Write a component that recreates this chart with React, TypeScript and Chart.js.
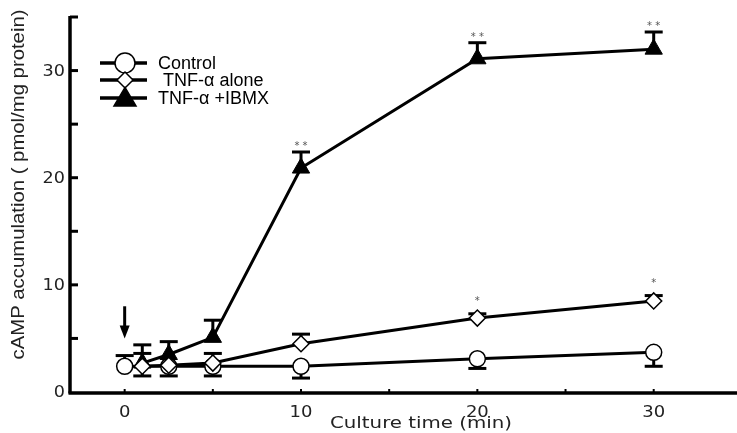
import React, { useEffect, useRef } from "react";
import { Chart, registerables } from "chart.js";

Chart.register(...registerables);

// ---- data ----
const controlTimes = [0, 2.5, 5, 10, 20, 30];
const controlValues = [2.4, 2.4, 2.4, 2.4, 3.1, 3.7];
const controlErrUp: (number | null)[] = [3.4, null, null, null, null, null];
const controlErrDown: (number | null)[] = [null, 1.5, 1.5, 1.3, 2.2, 2.4];
const controlSig = ["", "", "", "", "", ""];

const tnfTimes = [1, 2.5, 5, 10, 20, 30];
const tnfValues = [2.4, 2.5, 2.7, 4.5, 6.9, 8.5];
const tnfErrUp: (number | null)[] = [3.6, null, 3.6, 5.4, 7.3, 9.0];
const tnfErrDown: (number | null)[] = [1.5, null, null, null, null, null];
const tnfSig = ["", "", "", "", "*", "*"];

const ibmxTimes = [1, 2.5, 5, 10, 20, 30];
const ibmxValues = [2.7, 3.5, 5.1, 20.9, 31.1, 32.0];
const ibmxErrUp: (number | null)[] = [4.4, 4.7, 6.7, 22.4, 32.6, 33.6];
const ibmxErrDown: (number | null)[] = [null, null, null, null, null, null];
const ibmxSig = ["", "", "", "**", "**", "**"];

const seriesLabels = ["Control", " TNF-\u03b1 alone", "TNF-\u03b1 +IBMX"];
const xMajorTicks = [0, 10, 20, 30];
const xMinorTicks = [5, 15, 25];
const yMajorTicks = [0, 10, 20, 30];
const yMinorTicks = [5, 15, 25, 35];
const xTitle = "Culture time (min)";
const yTitle = "cAMP accumulation ( pmol/mg protein)";
const arrowTime = 0;
const arrowFrom = 8.0;
const arrowTo = 5.0;

const X_MIN = -3.1;
const X_MAX = 34.1;
const Y_MIN = 0;
const Y_MAX = 35;

const errUpAll = [controlErrUp, tnfErrUp, ibmxErrUp];
const errDownAll = [controlErrDown, tnfErrDown, ibmxErrDown];
const sigAll = [controlSig, tnfSig, ibmxSig];

function scaledText(ctx: CanvasRenderingContext2D, text: string, x: number, y: number, sx: number, align: "left" | "right" | "center") {
  ctx.save();
  ctx.translate(x, y);
  ctx.scale(sx, 1);
  ctx.textAlign = align;
  ctx.fillText(text, 0, 0);
  ctx.restore();
}

function drawMarker(ctx: CanvasRenderingContext2D, kind: string, x: number, y: number, r: number) {
  ctx.save();
  ctx.beginPath();
  if (kind === "circle") {
    ctx.arc(x, y, r, 0, Math.PI * 2);
    ctx.fillStyle = "#fff";
  } else if (kind === "diamond") {
    ctx.moveTo(x, y - r);
    ctx.lineTo(x + r, y);
    ctx.lineTo(x, y + r);
    ctx.lineTo(x - r, y);
    ctx.closePath();
    ctx.fillStyle = "#fff";
  } else {
    const h = r * 1.6;
    ctx.moveTo(x, y - h * 0.6);
    ctx.lineTo(x + r, y + h * 0.45);
    ctx.lineTo(x - r, y + h * 0.45);
    ctx.closePath();
    ctx.fillStyle = "#000";
  }
  ctx.fill();
  ctx.lineWidth = 1.5;
  ctx.strokeStyle = "#000";
  ctx.stroke();
  ctx.restore();
}

const customPlugin = {
  id: "custom",
  beforeDatasetsDraw(chart: any) {
    const ctx: CanvasRenderingContext2D = chart.ctx;
    const xs = chart.scales.x;
    const ys = chart.scales.y;
    const area = chart.chartArea;
    ctx.save();
    ctx.strokeStyle = "#000";
    ctx.fillStyle = "#000";
    // axes
    const y0 = ys.getPixelForValue(0);
    ctx.lineWidth = 3.5;
    ctx.beginPath();
    ctx.moveTo(area.left, ys.getPixelForValue(Y_MAX) - 1);
    ctx.lineTo(area.left, y0 + 1.5);
    ctx.stroke();
    ctx.beginPath();
    ctx.moveTo(area.left - 1.5, y0 + 1);
    ctx.lineTo(chart.width, y0 + 1);
    ctx.stroke();
    // y ticks (all pointing inward)
    ctx.lineWidth = 3;
    [...yMajorTicks, ...yMinorTicks].forEach((v) => {
      if (v === 0) return;
      const py = ys.getPixelForValue(v);
      ctx.beginPath();
      ctx.moveTo(area.left, py);
      ctx.lineTo(area.left + 8, py);
      ctx.stroke();
    });
    // x ticks
    ctx.lineWidth = 2;
    [...xMajorTicks, ...xMinorTicks].forEach((v) => {
      const px = xs.getPixelForValue(v);
      ctx.beginPath();
      ctx.moveTo(px, y0 - 3);
      ctx.lineTo(px, y0);
      ctx.stroke();
    });
    // tick labels
    ctx.fillStyle = "#222";
    ctx.font = "16px 'DejaVu Sans'";
    ctx.textBaseline = "middle";
    yMajorTicks.forEach((v) => {
      scaledText(ctx, String(v), area.left - 5, ys.getPixelForValue(v) + 1, 1.1, "right");
    });
    ctx.font = "15px 'DejaVu Sans'";
    ctx.textBaseline = "alphabetic";
    xMajorTicks.forEach((v) => {
      scaledText(ctx, String(v), xs.getPixelForValue(v), y0 + 25, 1.2, "center");
    });
    // x title
    ctx.font = "16px 'DejaVu Sans'";
    const tw = ctx.measureText(xTitle).width;
    scaledText(ctx, xTitle, 330, chart.height - 5, 182 / tw, "left");
    // y title
    ctx.save();
    ctx.font = "18px 'Liberation Sans'";
    ctx.translate(24, (area.top + y0) / 2 - 20);
    ctx.rotate(-Math.PI / 2);
    const w = ctx.measureText(yTitle).width;
    ctx.scale(350 / w, 1);
    ctx.textAlign = "center";
    ctx.fillText(yTitle, 0, 0);
    ctx.restore();

    // error bars
    ctx.strokeStyle = "#000";
    ctx.lineWidth = 3;
    chart.data.datasets.forEach((ds: any, di: number) => {
      ds.data.forEach((pt: any, i: number) => {
        const px = xs.getPixelForValue(pt.x);
        const py = ys.getPixelForValue(pt.y);
        [errUpAll[di][i], errDownAll[di][i]].forEach((e) => {
          if (e == null) return;
          const pe = ys.getPixelForValue(e);
          ctx.beginPath();
          ctx.moveTo(px, py);
          ctx.lineTo(px, pe);
          ctx.stroke();
          ctx.beginPath();
          ctx.moveTo(px - 9, pe);
          ctx.lineTo(px + 9, pe);
          ctx.stroke();
        });
      });
    });
    ctx.restore();
  },
  afterDraw(chart: any) {
    const ctx: CanvasRenderingContext2D = chart.ctx;
    const xs = chart.scales.x;
    const ys = chart.scales.y;
    ctx.save();
    // significance stars
    ctx.font = "10px 'DejaVu Sans'";
    ctx.fillStyle = "#555";
    ctx.textAlign = "center";
    ctx.textBaseline = "alphabetic";
    chart.data.datasets.forEach((ds: any, di: number) => {
      ds.data.forEach((pt: any, i: number) => {
        const s = sigAll[di][i];
        if (!s) return;
        const top = errUpAll[di][i] ?? pt.y;
        const off = di === 1 ? 10 : 3;
        ctx.fillText(s.split("").join(" "), xs.getPixelForValue(pt.x), ys.getPixelForValue(top) - off);
      });
    });
    // arrow
    const ax = xs.getPixelForValue(arrowTime);
    const a1 = ys.getPixelForValue(arrowFrom);
    const a2 = ys.getPixelForValue(arrowTo);
    ctx.strokeStyle = "#000";
    ctx.fillStyle = "#000";
    ctx.lineWidth = 3;
    ctx.beginPath();
    ctx.moveTo(ax, a1);
    ctx.lineTo(ax, a2 - 10);
    ctx.stroke();
    ctx.beginPath();
    ctx.moveTo(ax - 5, a2 - 13);
    ctx.lineTo(ax + 5, a2 - 13);
    ctx.lineTo(ax, a2);
    ctx.closePath();
    ctx.fill();
    // legend
    const kinds = ["circle", "diamond", "triangle"];
    const rows = [63, 80, 98];
    ctx.font = "18px 'Liberation Sans'";
    ctx.textAlign = "left";
    ctx.textBaseline = "middle";
    kinds.forEach((k, i) => {
      const y = rows[i];
      ctx.strokeStyle = "#000";
      ctx.lineWidth = 3.5;
      ctx.beginPath();
      ctx.moveTo(100, y);
      ctx.lineTo(147, y);
      ctx.stroke();
      drawMarker(ctx, k, 125, y, k === "circle" ? 10 : k === "diamond" ? 8 : 11);
      ctx.fillStyle = "#000";
      ctx.fillText(seriesLabels[i], 158, y + 1);
    });
    ctx.restore();
  },
};

export default function App() {
  const ref = useRef<HTMLCanvasElement | null>(null);
  useEffect(() => {
    if (!ref.current) return;
    const mk = (times: number[], vals: number[]) => times.map((t, i) => ({ x: t, y: vals[i] }));
    const chart = new Chart(ref.current, {
      type: "line",
      data: {
        datasets: [
          {
            label: seriesLabels[0],
            data: mk(controlTimes, controlValues),
            borderColor: "#000",
            borderWidth: 3,
            pointStyle: "circle",
            pointRadius: 8,
            pointBackgroundColor: "#fff",
            pointBorderColor: "#000",
            pointBorderWidth: 1.5,
            order: 2,
            clip: false as any,
          },
          {
            label: seriesLabels[1],
            data: mk(tnfTimes, tnfValues),
            borderColor: "#000",
            borderWidth: 3,
            pointStyle: "rectRot",
            pointRadius: 8,
            pointBackgroundColor: "#fff",
            pointBorderColor: "#000",
            pointBorderWidth: 1.5,
            order: 0,
            clip: false as any,
          },
          {
            label: seriesLabels[2],
            data: mk(ibmxTimes, ibmxValues),
            borderColor: "#000",
            borderWidth: 3,
            pointStyle: "triangle",
            pointRadius: 10,
            pointBackgroundColor: "#000",
            pointBorderColor: "#000",
            pointBorderWidth: 1,
            order: 1,
            clip: false as any,
          },
        ],
      },
      options: {
        responsive: false,
        animation: false,
        layout: { padding: { left: 70, right: 0, top: 17, bottom: 41 } },
        scales: {
          x: { type: "linear", min: X_MIN, max: X_MAX, display: false },
          y: { type: "linear", min: Y_MIN, max: Y_MAX, display: false },
        },
        plugins: { legend: { display: false }, tooltip: { enabled: false } },
        elements: { line: { tension: 0 } },
      },
      plugins: [customPlugin],
    });
    return () => chart.destroy();
  }, []);
  return (
    <div style={{ position: "fixed", left: 0, top: 0, width: 737, height: 433, background: "#fff" }}>
      <canvas ref={ref} width={737} height={433} />
    </div>
  );
}
